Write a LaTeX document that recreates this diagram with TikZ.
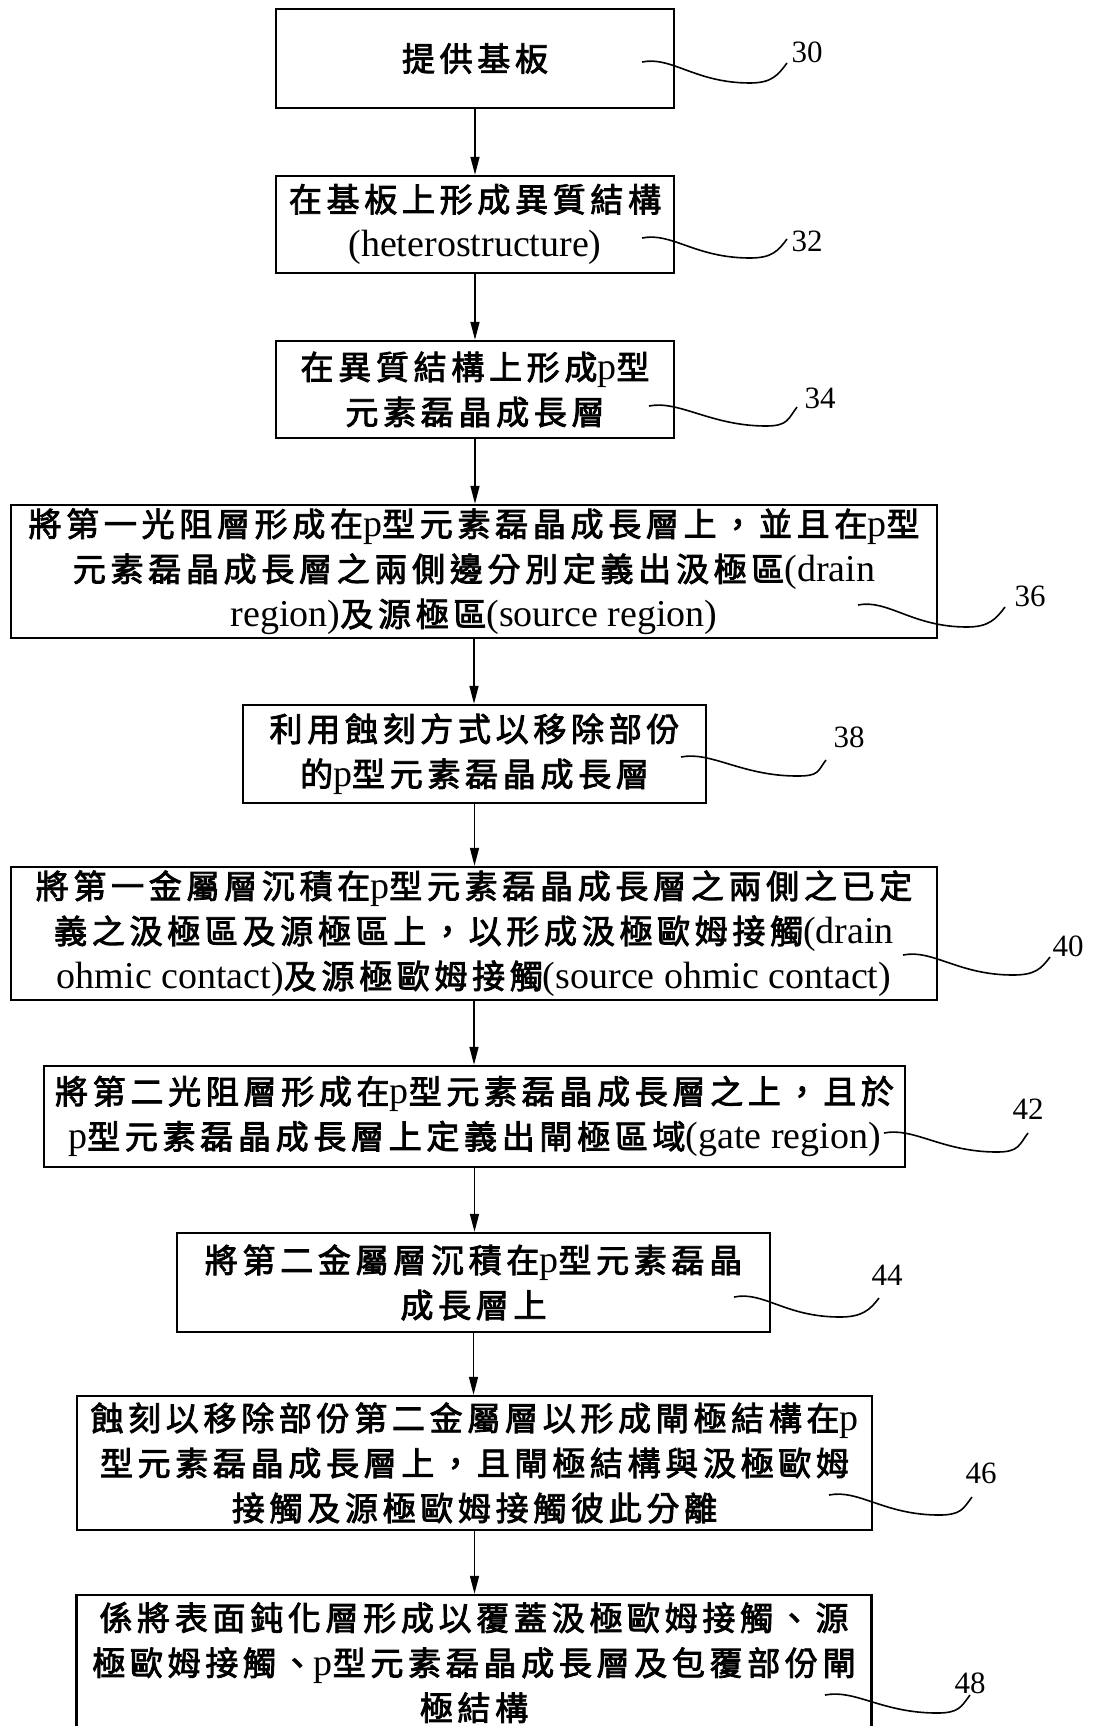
\documentclass[tikz,border=0pt]{standalone}
\usepackage{fontspec}
\setmainfont{Liberation Serif}
\newfontfamily\zhfont{Noto Sans CJK TC}[Scale=0.87,LetterSpace=14,FakeBold=2.5]
\newcommand\zh[1]{{\zhfont #1}}
\usetikzlibrary{arrows.meta}
\begin{document}
\begin{tikzpicture}[x=1pt,y=-1pt,
  box/.style={draw, line width=2.4pt, align=center, inner sep=0pt, font=\fontsize{38}{45}\selectfont},
  arr/.style={line width=1.5pt, -{Triangle[length=18pt,width=9pt]}},
  lead/.style={line width=1.6pt},
  num/.style={font=\fontsize{31}{31}\selectfont, inner sep=0pt}]
\useasboundingbox (0,0) rectangle (1094,1726);
% boxes
\node[box, minimum width=398pt, minimum height=99pt] (b30) at (475,58.5) {\zh{提供基板}};
\node[box, minimum width=398pt, minimum height=97pt] (b32) at (475,224.5) {\zh{在基板上形成異質結構}\\(heterostructure)};
\node[box, minimum width=398pt, minimum height=97pt] (b34) at (475,389.5) {\zh{在異質結構上形成}p\zh{型}\\\zh{元素磊晶成長層}};
\node[box, minimum width=926pt, minimum height=133pt] (b36) at (474,571.5) {\zh{將第一光阻層形成在}p\zh{型元素磊晶成長層上，並且在}p\zh{型}\\\zh{元素磊晶成長層之兩側邊分別定義出汲極區}(drain\\region)\zh{及源極區}(source region)};
\node[box, minimum width=463pt, minimum height=98pt] (b38) at (474.5,754) {\zh{利用蝕刻方式以移除部份}\\\zh{的}p\zh{型元素磊晶成長層}};
\node[box, minimum width=926pt, minimum height=133pt] (b40) at (474,933.5) {\zh{將第一金屬層沉積在}p\zh{型元素磊晶成長層之兩側之已定}\\\zh{義之汲極區及源極區上，以形成汲極歐姆接觸}(drain\\ohmic contact)\zh{及源極歐姆接觸}(source ohmic contact)};
\node[box, minimum width=861pt, minimum height=101pt] (b42) at (474.5,1116.5) {\zh{將第二光阻層形成在}p\zh{型元素磊晶成長層之上，且於}\\p\zh{型元素磊晶成長層上定義出閘極區域}(gate region)};
\node[box, minimum width=593pt, minimum height=99pt] (b44) at (473.5,1282.5) {\zh{將第二金屬層沉積在}p\zh{型元素磊晶}\\\zh{成長層上}};
\node[box, minimum width=795pt, minimum height=134pt] (b46) at (474.5,1463) {\zh{蝕刻以移除部份第二金屬層以形成閘極結構在}p\\\zh{型元素磊晶成長層上，且閘極結構與汲極歐姆}\\\zh{接觸及源極歐姆接觸彼此分離}};
\node[box, minimum width=795pt, minimum height=135pt] (b48) at (474,1662.5) {\zh{係將表面鈍化層形成以覆蓋汲極歐姆接觸、源}\\\zh{極歐姆接觸、}p\zh{型元素磊晶成長層及包覆部份閘}\\\zh{極結構}};
% arrows
\draw[arr] (b30.south) -- (b32.north);
\draw[arr] (b32.south) -- (b34.north);
\draw[arr] (b34.south) -- (b34.south |- b36.north);
\draw[arr] (b36.south) -- (b36.south |- b38.north);
\draw[arr] (b38.south) -- (b38.south |- b40.north);
\draw[arr] (b40.south) -- (b40.south |- b42.north);
\draw[arr] (b42.south) -- (b42.south |- b44.north);
\draw[arr] (b44.south) -- (b44.south |- b46.north);
\draw[arr] (b46.south) -- (b46.south |- b48.north);
% reference numerals
\node[num] (l30) at (807,52) {30};
\node[num] (l32) at (807,241) {32};
\node[num] (l34) at (820,398) {34};
\node[num] (l36) at (1030,596) {36};
\node[num] (l38) at (849,737) {38};
\node[num] (l40) at (1068,946) {40};
\node[num] (l42) at (1028,1109) {42};
\node[num] (l44) at (887,1275) {44};
\node[num] (l46) at (981,1473) {46};
\node[num] (l48) at (970,1683) {48};
% leader squiggles
\foreach \n/\sx/\sy/\mx/\my/\ex/\ey in {30/642/62/750/83/787/63, 32/642/238/750/258/787/239, 34/649/406/766/426/797/407, 36/858/605/967/627/1005/607, 38/681/757/797/776/826/760, 40/903/955/1013/975/1050/957, 42/884/1133/997/1152/1028/1133, 44/734/1297/840/1317/879/1298, 46/829/1495/939/1515/972/1497, 48/825/1695/937/1713/970/1695}{
  \coordinate (s\n) at (\sx,\sy);
  \coordinate (m\n) at (\mx,\my);
  \coordinate (e\n) at (\ex,\ey);
  \draw[lead] (s\n) .. controls +(30,-6) and +(-55,0) .. (m\n) .. controls +(22,0) and +(-9,12) .. (e\n);
}
\end{tikzpicture}
\end{document}
